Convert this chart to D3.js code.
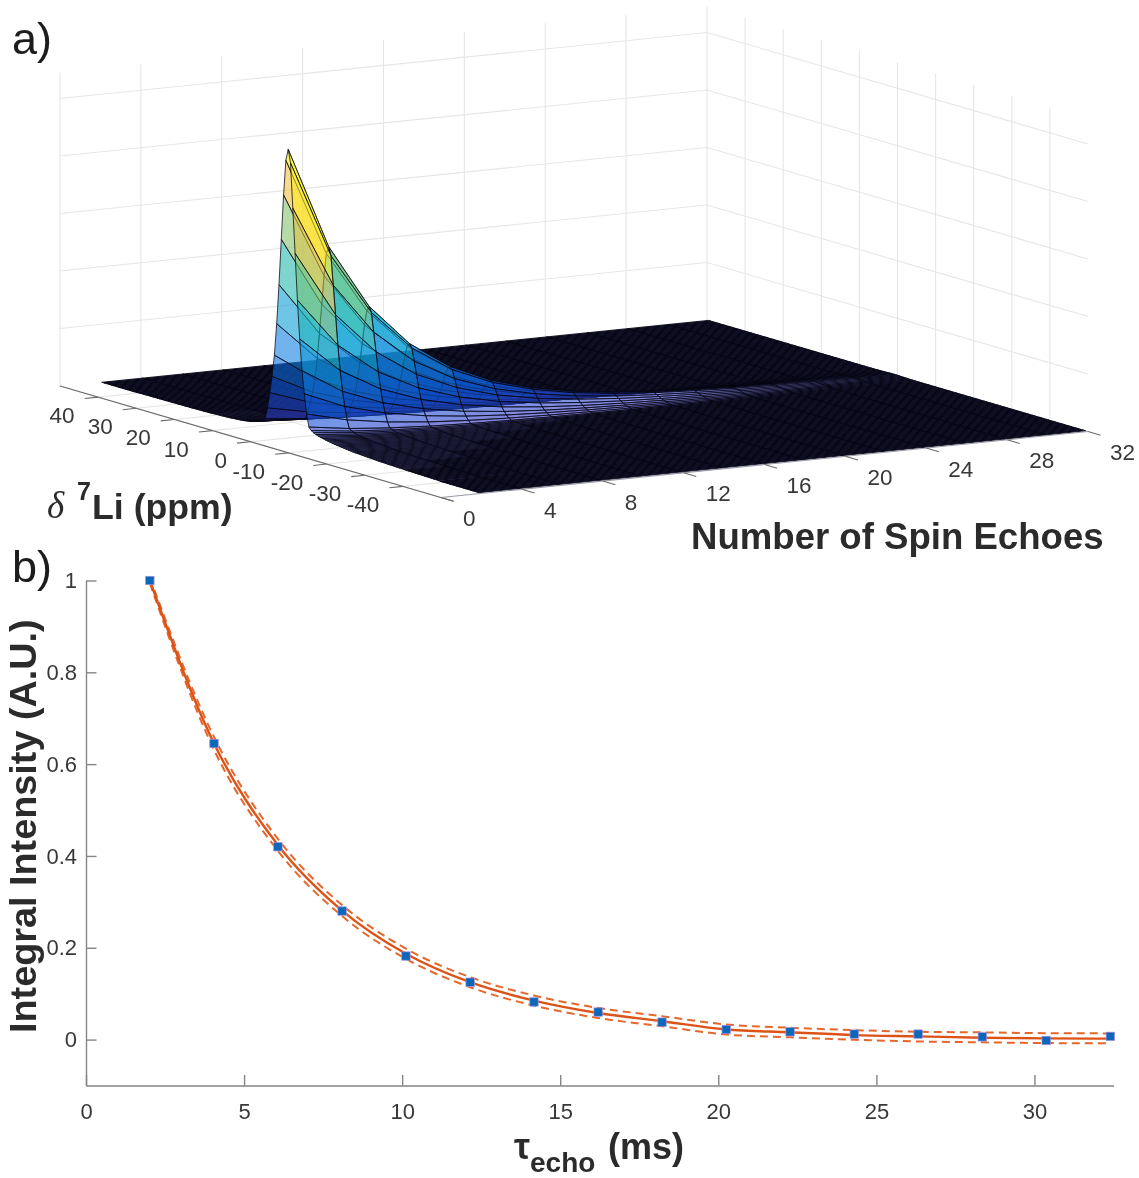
<!DOCTYPE html>
<html><head><meta charset="utf-8">
<script src="https://cdn.jsdelivr.net/npm/d3@7/dist/d3.min.js"></script>
<style>
html,body{margin:0;padding:0;background:#fff}
svg{display:block;filter:blur(0.45px)}
text{font-family:"Liberation Sans",Arial,sans-serif}
</style></head><body>
<svg id="c" width="1139" height="1178" viewBox="0 0 1139 1178" fill="#383838"></svg>
<script>
// ---------- data ----------
const echoTicks = [0,4,8,12,16,20,24,28,32];
const ppmTicks = [40,30,20,10,0,-10,-20,-30,-40];
const zGrid = [0.2,0.4,0.6,0.8,1];
const echoCounts = [2,4,6,8,10,12,14,16,18,20,22,24,26,28,30,32];
const peakPpm = 0.72;
const ppmStep = 0.604;
const shapeHighPpm = [1,.96,.837,.68,.52,.382,.27,.194,.135,.08,.04,.033,.028,.024,.021,.018,.016,.014,.013,.0115,.0105,.0095,.009,.0085,.0075,.007,.0065,.006,.0055,.0052,.005,.0047,.0044,.0041,.0038,.0036,.0034,.0032,.003,.0029,.0028,.0026,.0024,.0023,.0022,.0021,.002,.0019,.0018,.0018,.0018,.0017,.0016,.0015,.0014,.0013,.0012,.0012,.0011,.001,.001,.0009,.0008,.0007,.0006,.0005];
const shapeLowPpm  = [1,.955,.80,.645,.485,.352,.244,.166,.098,.055,.045,.04,.036,.033,.031,.029,.027,.0255,.024,.0225,.021,.02,.019,.018,.017,.016,.015,.014,.013,.0125,.012,.0115,.011,.0105,.01,.0095,.009,.0085,.008,.0075,.007,.0067,.0064,.0061,.0058,.0055,.0052,.005,.0047,.0044,.004,.0038,.0036,.0034,.0032,.003,.0028,.0026,.0024,.0022,.002,.0018,.0016,.0014,.0012,.001];
const echoHeight = [1,.647,.425,.281,.187,.125,.085,.058,.04,.028,.02,.014,.01,.007,.004,.002];
const colorStops = ["#3a34c0","#0a5ce0","#1485e0","#0aacd0","#38c09a","#a0c460","#fec338","#f9fb15"];

const tauEcho = [2.02,4.05,6.07,8.1,10.12,12.15,14.17,16.2,18.22,20.25,22.27,24.3,26.32,28.35,30.37,32.4];
const intensity = [1,.645,.42,.28,.182,.125,.082,.06,.038,.022,.017,.012,.012,.006,-.002,.007];
const fitMid = [1,.645,.424,.281,.187,.125,.085,.058,.04,.022,.016,.0098,.007,.004,.0026,.002];
const fitUp  = [1.006,.659,.437,.293,.198,.136,.096,.069,.051,.033,.0257,.0207,.017,.0157,.014,.0135];
const fitLow = [.994,.631,.411,.269,.176,.114,.074,.047,.029,.011,.005,-.0004,-.004,-.006,-.0076,-.008];
const xTicksB = [0,5,10,15,20,25,30];
const yTicksB = [0,.2,.4,.6,.8,1];

// ---------- panel a: parallel projection through linear scales ----------
const svg = d3.select("#c");
const ink = "#2b2b2b";
const ex = d3.scaleLinear([0,32],[0,647]);
const ey = d3.scaleLinear([0,32],[0,-66]);
const px = d3.scaleLinear([50,-50],[0,381]);
const py = d3.scaleLinear([50,-50],[0,111.5]);
const zp = d3.scaleLinear([0,1],[0,-287.5]);
const P = (e,p,z=0)=>[60+ex(e)+px(p), 386+ey(e)+py(p)+zp(z)];
const seg = (a,b)=>"M"+a.join(",")+"L"+b.join(",");
const color = d3.scaleLinear(d3.range(colorStops.length).map(i=>i/(colorStops.length-1)),colorStops);

const a = svg.append("g");
const wallTop = 1.09;
const gridStyle = s=>s.attr("fill","none").attr("stroke","#e6e6e6").attr("stroke-width",1.1);
const grid = a.append("g").call(gridStyle);
grid.selectAll(".we").data(echoTicks).join("path")
  .attr("d",e=>seg(P(e,50,0),P(e,50,wallTop)));
grid.selectAll(".wp").data(ppmTicks).join("path").attr("class","wp")
  .attr("d",p=>seg(P(32,p,0),P(32,p,wallTop)));
grid.selectAll(".zl").data(zGrid).join("path").attr("class","zl")
  .attr("d",z=>"M"+P(0,50,z).join(",")+"L"+P(32,50,z).join(",")+"L"+P(32,-50,z).join(","));
grid.selectAll(".fp").data(ppmTicks).join("path").attr("class","fp")
  .attr("d",p=>seg(P(0,p),P(32,p)));
grid.selectAll(".fe").data(echoTicks).join("path").attr("class","fe")
  .attr("d",e=>seg(P(e,50),P(e,-50)));

// sample positions in ppm, high to low, with the line shape on them
const kRange = d3.range(-82,84);
const kUsed = kRange.filter(k=>{const p=peakPpm-k*ppmStep;return p<=50&&p>=-50;});
const ppmSamples = kUsed.map(k=>peakPpm-k*ppmStep);
const shapeAt = kUsed.map(k=>k<0?(shapeHighPpm[-k]||0):(shapeLowPpm[k]||0));
const Z = (i,j)=>echoHeight[i]*shapeAt[j];

const quads = [];
for(let i=echoCounts.length-2;i>=0;i--){
  for(let j=0;j<ppmSamples.length-1;j++){
    quads.push({i,j});
  }
}
a.append("g").selectAll("path").data(quads).join("path")
  .attr("d",({i,j})=>{
    const e0=echoCounts[i],e1=echoCounts[i+1],p0=ppmSamples[j],p1=ppmSamples[j+1];
    return "M"+P(e0,p0,Z(i,j)).join(",")+"L"+P(e1,p0,Z(i+1,j)).join(",")+"L"+P(e1,p1,Z(i+1,j+1)).join(",")+"L"+P(e0,p1,Z(i,j+1)).join(",")+"Z";
  })
  .attr("fill",({i,j})=>color(Z(i,j)))
  .attr("fill-opacity",0.6)
  .attr("stroke","#05050f").attr("stroke-opacity",0.95)
  .attr("stroke-width",({i,j})=>Z(i,j)<0.004?0.95:0.8);

// 3D axes
const ax = a.append("g").attr("fill","none").attr("stroke","#6b6b6b").attr("stroke-width",1.1);
ax.append("path").attr("d",seg(P(0,50),P(0,-53.3)));
ax.append("path").attr("d",seg(P(0,-50),P(32,-50))).attr("stroke","#9a9aa8");
ax.selectAll(".tp").data(ppmTicks).join("path").attr("class","tp").attr("d",p=>seg(P(0,p),P(-0.67,p)));
ax.selectAll(".te").data(echoTicks).join("path").attr("class","te").attr("d",e=>seg(P(e,-50),P(e,-53.3)));
a.append("g").selectAll("text").data(ppmTicks).join("text")
  .attr("x",p=>P(0,p)[0]-23.5).attr("y",p=>P(0,p)[1]+26)
  .attr("text-anchor","end").attr("font-size",22.5).text(d=>d);
a.append("g").selectAll("text").data(echoTicks).join("text")
  .attr("x",e=>P(e,-50)[0]+22).attr("y",e=>P(e,-50)[1]+28.5)
  .attr("font-size",22.5).text(d=>d);

// labels panel a
svg.append("text").attr("x",12).attr("y",54).attr("font-size",45).attr("fill","#1c1c1c").text("a)");
svg.append("text").attr("x",12).attr("y",582).attr("font-size",45).attr("fill","#1c1c1c").text("b)");
svg.append("text").attr("x",47).attr("y",518).attr("font-size",37).attr("font-style","italic")
  .style("font-family","'Liberation Serif',serif").attr("fill",ink).text("δ");
svg.append("text").attr("x",77).attr("y",500).attr("font-size",25).attr("font-weight","bold").attr("fill",ink).text("7");
svg.append("text").attr("x",92).attr("y",519).attr("font-size",35.7).attr("font-weight","bold").attr("fill",ink).text("Li (ppm)");
svg.append("text").attr("x",691).attr("y",549).attr("font-size",36.6).attr("font-weight","bold").attr("fill",ink).text("Number of Spin Echoes");

// ---------- panel b ----------
const x = d3.scaleLinear([0,32.5],[86,1113.5]);
const y = d3.scaleLinear([-0.1,1],[1085.5,580.5]);
const b = svg.append("g");
const xa = b.append("g").attr("transform","translate(0,1085.5)")
  .call(d3.axisBottom(x).tickValues(xTicksB).tickSize(-10.5).tickPadding(18).tickFormat(d3.format("d")).tickSizeOuter(0));
const ya = b.append("g").attr("transform","translate(86,0)")
  .call(d3.axisLeft(y).tickValues(yTicksB).tickSize(-10.5).tickPadding(9).tickFormat(d=>d).tickSizeOuter(0));
[xa,ya].forEach(g=>{
  g.selectAll("path,line").attr("stroke","#858585").attr("stroke-width",1.4);
  g.selectAll("text").attr("font-size",22).attr("font-family",null).attr("fill","#383838");
});
const ln = vals=>d3.line().x((d,i)=>x(tauEcho[i])).y(d=>y(d)).curve(d3.curveMonotoneX)(vals);
b.append("path").attr("d",ln(fitUp)).attr("fill","none").attr("stroke","#e5672c").attr("stroke-width",2).attr("stroke-dasharray","8 5");
b.append("path").attr("d",ln(fitLow)).attr("fill","none").attr("stroke","#e5672c").attr("stroke-width",2).attr("stroke-dasharray","8 5");
b.append("path").attr("d",ln(fitMid)).attr("fill","none").attr("stroke","#dc5318").attr("stroke-width",2.4);
b.append("g").selectAll("rect").data(intensity).join("rect")
  .attr("x",(d,i)=>x(tauEcho[i])-4.2).attr("y",d=>y(d)-4.2).attr("width",8.4).attr("height",8.4)
  .attr("fill","#0a68ba").attr("stroke","#a88ce0").attr("stroke-width",0.7);

svg.append("text").attr("transform","translate(36,1033) rotate(-90)").attr("font-size",37.8).attr("font-weight","bold").attr("fill",ink).text("Integral Intensity (A.U.)");
svg.append("text").attr("x",514).attr("y",1159).attr("font-size",36).attr("font-weight","bold").attr("fill",ink).text("τ");
svg.append("text").attr("x",530).attr("y",1172).attr("font-size",28).attr("font-weight","bold").attr("fill",ink).text("echo");
svg.append("text").attr("x",608).attr("y",1159).attr("font-size",36).attr("font-weight","bold").attr("fill",ink).text("(ms)");
</script>
</body></html>
